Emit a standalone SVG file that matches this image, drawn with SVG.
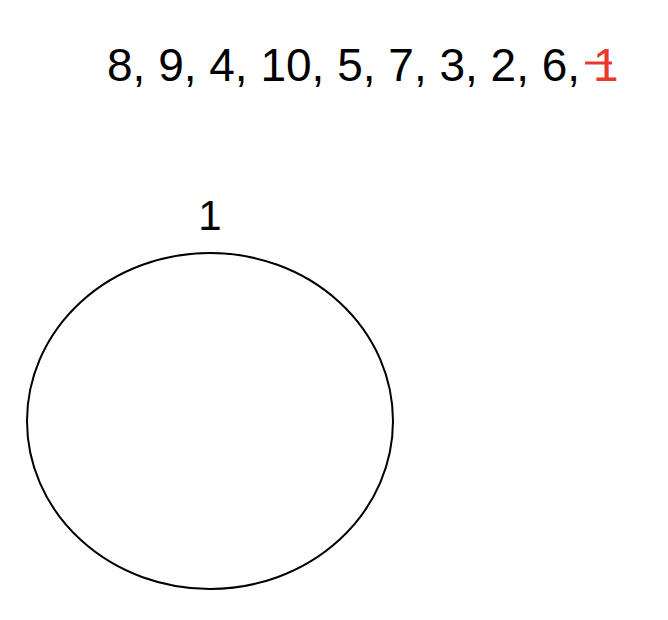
<svg xmlns="http://www.w3.org/2000/svg" width="668" height="620" viewBox="0 0 668 620">
<style>
text{font-family:"Liberation Sans",Arial,sans-serif;fill:#000}
.seq{font-size:46px}
.lbl{font-size:42px}
.red{fill:#e8392a}
.strike{stroke:#e8392a;stroke-width:3}
.node{fill:#fff;stroke:#000;stroke-width:2}
</style>
<rect width="668" height="620" fill="#fff"/>
<g id="sequence">
<text class="seq" x="107" y="81">8, 9, 4, 10, 5, 7, 3, 2, 6, <tspan class="red">1</tspan></text>
<line class="strike" x1="585" y1="63" x2="612" y2="63"/>
</g>
<g id="node1">
<ellipse class="node" cx="210" cy="421" rx="183" ry="168"/>
<text class="lbl" x="210" y="230" text-anchor="middle">1</text>
</g>
<g id="connectors"/>
</svg>
